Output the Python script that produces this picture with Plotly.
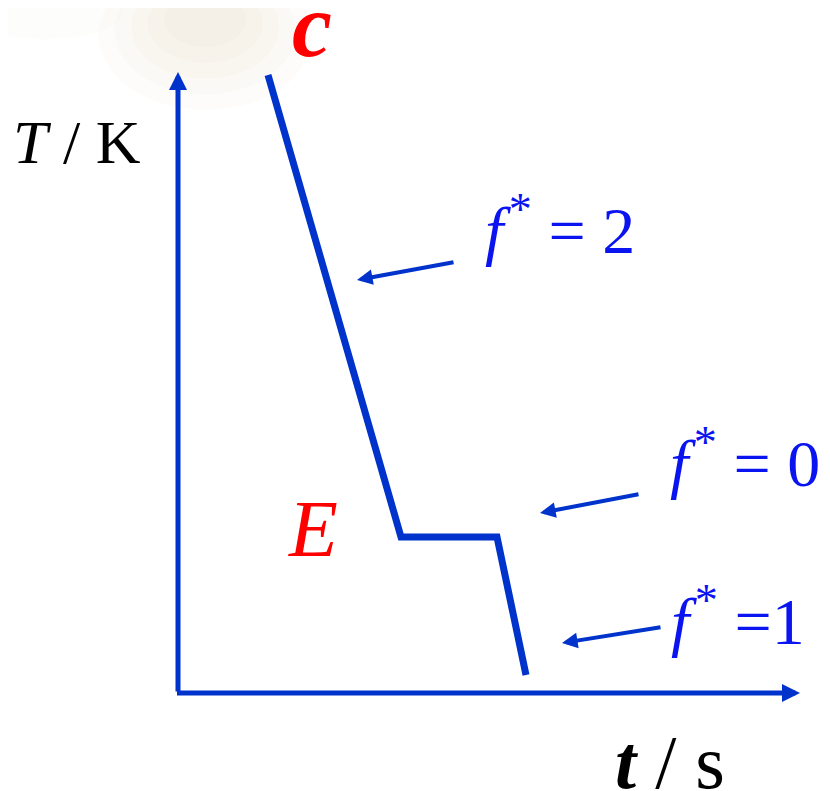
import plotly.graph_objects as go

# ---- data (arbitrary units: t in s, T in K) ----
curve_t = [9.0, 22.3, 31.9, 34.8]
curve_T = [61.8, 15.6, 15.6, 1.8]

axis_t_end = 62.2
axis_T_end = 62.1

# arrow annotations: (tail_t, tail_T, head_t, head_T)
arrow_tail_t = [27.7, 46.2, 48.4]
arrow_tail_T = [43.1, 19.9, 6.6]
arrow_head_t = [17.9, 36.2, 38.4]
arrow_head_T = [41.3, 18.0, 5.0]

SP = "<span style='font-size:22px'> </span>"
phase_labels = [f"<i>f</i>{SP}<sup>*</sup> = 2", f"<i>f</i>{SP}<sup>*</sup> = 0", f"<i>f</i>{SP}<sup>*</sup> =1"]
phase_label_t = [38.2, 56.7, 56.0]
phase_label_T = [46.8, 23.5, 7.7]

point_labels = ["<b><i>c</i></b>", "<i>E</i>"]
point_label_t = [13.4, 13.5]
point_label_T = [66.8, 16.4]

x_title = "<b><i>t</i></b> / s"
y_title = "<i>T</i> / K"

LINE = "#0033cc"
TEXT_BLUE = "#0a14f0"
RED = "#ff0000"
FONT = "Liberation Serif"

fig = go.Figure()
fig.add_trace(go.Scatter(x=curve_t, y=curve_T, mode="lines",
                         line=dict(color=LINE, width=7), hoverinfo="skip",
                         showlegend=False))

ann = []
# axes arrows
ann.append(dict(x=0, y=axis_T_end, ax=0, ay=0, xref="x", yref="y", axref="x", ayref="y",
                text="", showarrow=True, arrowhead=2, arrowsize=0.72, arrowwidth=5,
                arrowcolor=LINE, standoff=0))
ann.append(dict(x=axis_t_end, y=0, ax=-0.25, ay=0, xref="x", yref="y", axref="x", ayref="y",
                text="", showarrow=True, arrowhead=2, arrowsize=0.72, arrowwidth=5,
                arrowcolor=LINE, standoff=0))
for tt, tT, ht, hT in zip(arrow_tail_t, arrow_tail_T, arrow_head_t, arrow_head_T):
    ann.append(dict(x=ht, y=hT, ax=tt, ay=tT, xref="x", yref="y", axref="x", ayref="y",
                    text="", showarrow=True, arrowhead=2, arrowsize=0.78, arrowwidth=4,
                    arrowcolor=LINE, standoff=0))
for txt, xt, yT in zip(phase_labels, phase_label_t, phase_label_T):
    ann.append(dict(x=xt, y=yT, xref="x", yref="y", text=txt, showarrow=False,
                    font=dict(family=FONT, size=66, color=TEXT_BLUE)))
ann.append(dict(x=point_label_t[0], y=point_label_T[0], xref="x", yref="y", text=point_labels[0],
                showarrow=False, font=dict(family=FONT, size=90, color=RED)))
ann.append(dict(x=point_label_t[1], y=point_label_T[1], xref="x", yref="y", text=point_labels[1],
                showarrow=False, font=dict(family=FONT, size=80, color=RED)))
ann.append(dict(x=-10.1, y=55.1, xref="x", yref="y", text=y_title, showarrow=False,
                font=dict(family=FONT, size=62, color="black")))
ann.append(dict(x=49.2, y=-6.9, xref="x", yref="y", text=x_title, showarrow=False,
                font=dict(family=FONT, size=76, color="black")))

# soft background watermark
shapes = []
for (x0, y0, x1, y1, a) in [(0.11, 0.87, 0.37, 1.06, 0.05), (0.13, 0.89, 0.35, 1.05, 0.05),
                            (0.15, 0.91, 0.33, 1.04, 0.05), (0.17, 0.93, 0.31, 1.03, 0.05),
                            (0.19, 0.95, 0.29, 1.02, 0.05), (-0.05, 0.96, 0.14, 1.03, 0.04)]:
    shapes.append(dict(type="circle", xref="paper", yref="paper", x0=x0, y0=y0, x1=x1, y1=y1,
                       fillcolor=f"rgba(215,205,160,{a})", line=dict(width=0), layer="below"))

# page body has an 8px margin: figure spans page pixels 8..830 / 8..791
fig.update_layout(
    width=822, height=783, margin=dict(l=0, r=0, t=0, b=0),
    paper_bgcolor="white", plot_bgcolor="white",
    xaxis=dict(range=[-17.0, 65.2], visible=False, fixedrange=True),
    yaxis=dict(range=[-9.8, 68.5], visible=False, fixedrange=True),
    annotations=ann, shapes=shapes, showlegend=False,
)
fig.write_html("out.html")
